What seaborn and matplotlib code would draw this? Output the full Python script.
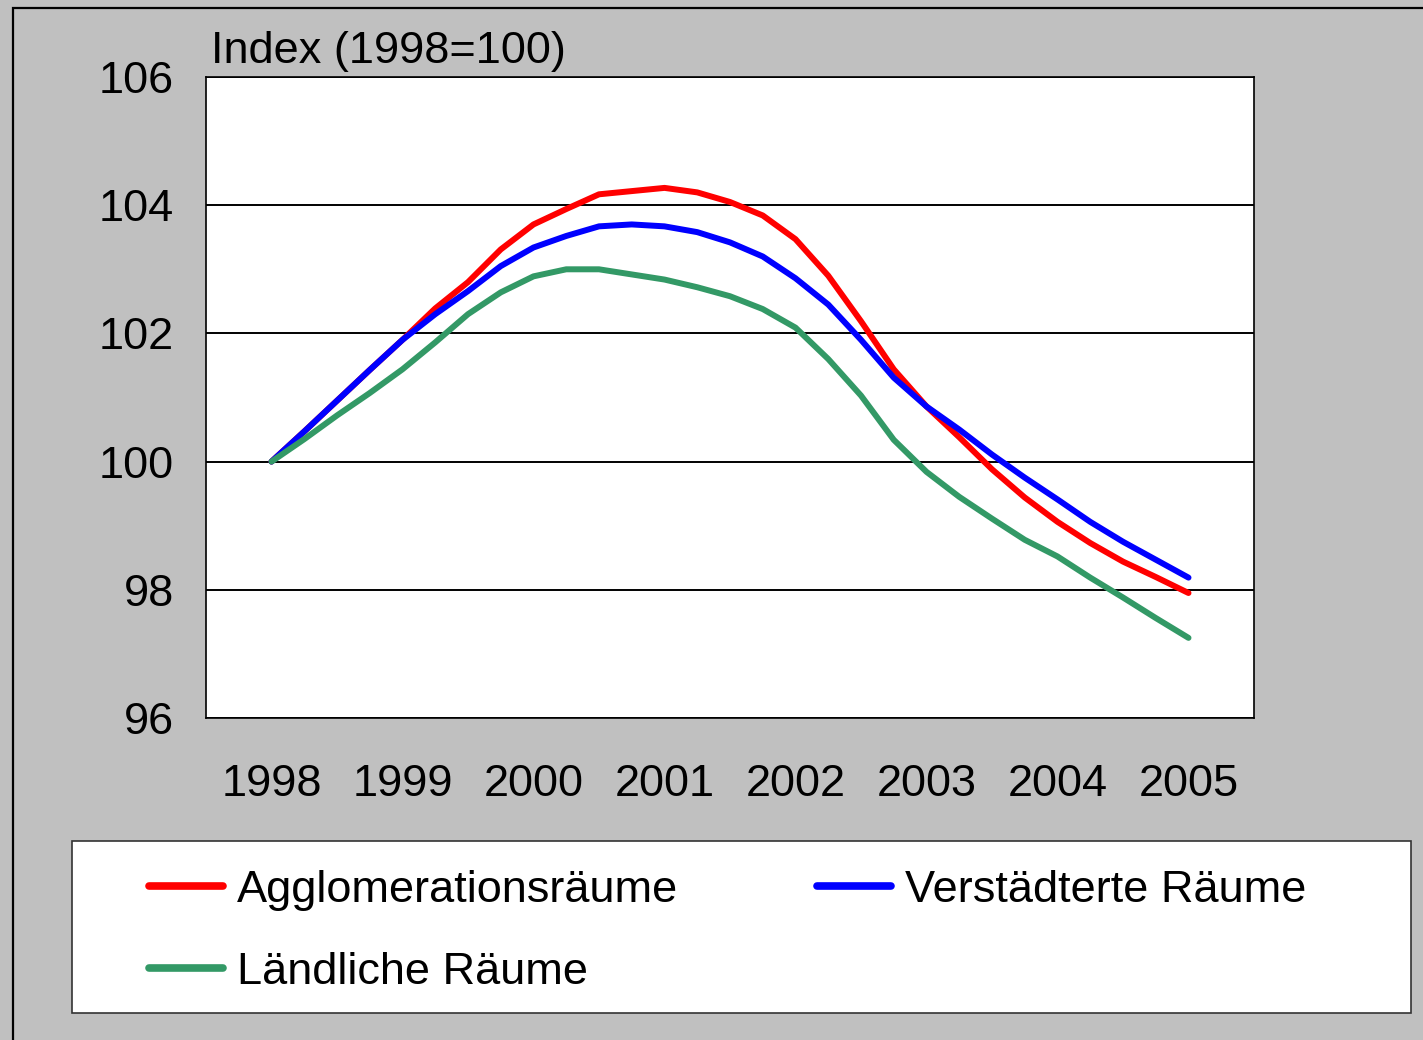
import numpy as np
import pandas as pd
import matplotlib
matplotlib.use('Agg')
import matplotlib.pyplot as plt
import seaborn as sns
from matplotlib.patches import Rectangle

# years on the axis, data is quarterly from 1998 to 2005
years = ['1998', '1999', '2000', '2001', '2002', '2003', '2004', '2005']
quarters = 1998 + np.arange(29) / 4

agglo = [100.0, 100.47, 100.95, 101.43, 101.9, 102.39, 102.8, 103.31, 103.7, 103.94,
         104.17, 104.22, 104.27, 104.2, 104.05, 103.84, 103.47, 102.9, 102.19, 101.44,
         100.86, 100.38, 99.88, 99.44, 99.06, 98.73, 98.44, 98.2, 97.95]
verst = [100.0, 100.47, 100.95, 101.43, 101.9, 102.3, 102.66, 103.05, 103.34, 103.52,
         103.67, 103.7, 103.67, 103.58, 103.42, 103.2, 102.86, 102.45, 101.9, 101.31,
         100.86, 100.5, 100.11, 99.75, 99.41, 99.06, 98.75, 98.47, 98.19]
laend = [100.0, 100.35, 100.72, 101.07, 101.44, 101.86, 102.3, 102.64, 102.89, 103.0,
         103.0, 102.92, 102.84, 102.72, 102.58, 102.38, 102.09, 101.6, 101.03, 100.34,
         99.84, 99.45, 99.11, 98.78, 98.52, 98.19, 97.88, 97.56, 97.25]

labels = ['Agglomerationsräume', 'Verstädterte Räume', 'Ländliche Räume']
colors = ['#FF0000', '#0000FF', '#339966']
yticks = [96, 98, 100, 102, 104, 106]

sns.set_style('white')
plt.rcParams['font.family'] = ['Liberation Sans', 'DejaVu Sans']
plt.rcParams['text.color'] = 'black'
plt.rcParams['xtick.color'] = 'black'
plt.rcParams['ytick.color'] = 'black'
FS = 32.5

df = pd.DataFrame({
    't': np.concatenate([quarters] * 3),
    'index': agglo + verst + laend,
    'region': np.repeat(labels, len(quarters)),
})

W, H = 1423, 1040
fig = plt.figure(figsize=(W / 100, H / 100), dpi=100, facecolor='#C0C0C0')
ax = fig.add_axes([206 / W, 1 - 718 / H, (1254 - 206) / W, (718 - 77) / H])
ax.set_facecolor('white')

sns.lineplot(data=df, x='t', y='index', hue='region', hue_order=labels,
             palette=dict(zip(labels, colors)), linewidth=4.3, ax=ax,
             solid_capstyle='round', solid_joinstyle='round')
handles, labs = ax.get_legend_handles_labels()
ax.get_legend().remove()

ax.set_xlim(1997.5, 2005.5)
ax.set_ylim(96, 106)
ax.set_yticks(yticks)
ax.yaxis.grid(True, color='black', linewidth=1.4)
ax.set_axisbelow(True)
ax.set_xticks(np.arange(1997.5, 2006, 1.0))
ax.set_xticklabels([])
ax.set_xticks(np.arange(1998, 2006), minor=True)
ax.set_xticklabels(years, minor=True)
ax.tick_params(axis='x', which='major', direction='out', length=10, width=1.2, color='black')
ax.tick_params(axis='x', which='minor', length=0, pad=33, labelsize=FS, labelcolor='black')
ax.tick_params(axis='y', direction='out', length=8, width=1.2, color='black', pad=15,
               labelsize=FS, labelcolor='black')
ax.set_xlabel('')
ax.set_ylabel('')
for s in ax.spines.values():
    s.set_color('black')
    s.set_linewidth(1.2)

fig.text(211 / W, 1 - 63 / H, 'Index (1998=100)', fontsize=FS, va='baseline', ha='left',
         color='black')

# legend box
fig.patches.append(Rectangle((72 / W, 1 - 1013 / H), (1411 - 72) / W, (1013 - 841) / H,
                             transform=fig.transFigure, facecolor='white',
                             edgecolor='#333333', linewidth=1.2))
order = [0, 2, 1]
leg = fig.legend([handles[i] for i in order], [labs[i] for i in order],
                 loc='upper left', bbox_to_anchor=(126 / W, 1 - 847 / H), ncol=2,
                 frameon=False, fontsize=FS, borderpad=0, handlelength=1.65,
                 handletextpad=0.3, columnspacing=3.08, labelspacing=0.92)
for h in leg.get_lines():
    h.set_linewidth(5.5)
    h.set_solid_capstyle('round')
for t in leg.get_texts():
    t.set_color('black')

# outer border
fig.patches.append(Rectangle((13 / W, -0.05), 1.1, 1 - 8 / H + 0.05,
                             transform=fig.transFigure, fill=False,
                             edgecolor='black', linewidth=1.6))

fig.savefig('out.png', dpi=100, facecolor=fig.get_facecolor())
